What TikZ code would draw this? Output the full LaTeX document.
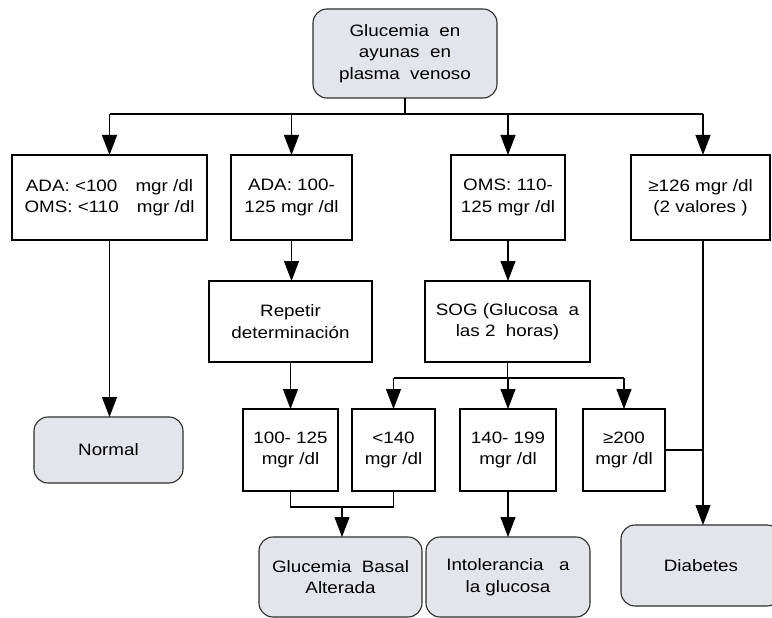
\documentclass[tikz,border=0pt]{standalone}
\usepackage{fontspec}
\setmainfont[FakeStretch=1.14]{Liberation Sans}
\usetikzlibrary{arrows.meta}
\definecolor{boxgray}{RGB}{228,229,234}
\definecolor{edgegray}{RGB}{45,45,45}
\begin{document}
\begin{tikzpicture}[x=1pt,y=-1pt,
  txt/.style={font=\fontsize{16.5pt}{21.5pt}\selectfont, align=center, inner sep=0pt, outer sep=0pt},
  sqbox/.style={txt, draw=black, line width=1.1pt, fill=white},
  rbox/.style={txt, draw=edgegray, line width=1.1pt, fill=boxgray, rounded corners=14pt},
  conn/.style={line width=1.1pt, draw=black},
  arr/.style={conn, -{Triangle[length=20pt,width=15pt]}}]
\useasboundingbox (0,0) rectangle (772,618);
\fill[white] (0,0) rectangle (772,618);

% top
\node[rbox, minimum width=184pt, minimum height=89pt] (top) at (405,53.5)
  {Glucemia\ \ en\\ayunas\ \ en\\plasma\ \ venoso};

% row 1
\node[sqbox, minimum width=195pt, minimum height=85pt] (A) at (109.5,197.5)
  {ADA: <100\hspace{1.1em}mgr /dl\\OMS: <110\hspace{1.1em}mgr /dl};
\node[sqbox, minimum width=121pt, minimum height=85pt] (B) at (291.5,197.5)
  {ADA: 100-\\125 mgr /dl};
\node[sqbox, minimum width=114pt, minimum height=85pt] (C) at (508,197.5)
  {OMS: 110-\\125 mgr /dl};
\node[sqbox, minimum width=139pt, minimum height=85pt] (D) at (700.5,197.5)
  {≥126 mgr /dl\\(2 valores )};

% row 2
\node[sqbox, minimum width=163pt, minimum height=81pt] (rep) at (290.5,321.5)
  {Repetir\\determinación};
\node[sqbox, minimum width=165pt, minimum height=81pt] (sog) at (507.5,321.5)
  {SOG (Glucosa\ \ a\\las 2\ \ horas)};

% row 3
\node[rbox, minimum width=149pt, minimum height=66pt] (norm) at (108.5,450) {Normal};
\node[sqbox, minimum width=95pt, minimum height=82pt] (r1) at (290.5,450) {100- 125\\mgr /dl};
\node[sqbox, minimum width=83pt, minimum height=82pt] (r2) at (393.5,450) {<140\\mgr /dl};
\node[sqbox, minimum width=96pt, minimum height=82pt] (r3) at (508,450) {140- 199\\mgr /dl};
\node[sqbox, minimum width=82pt, minimum height=82pt] (r4) at (624,450) {≥200\\mgr /dl};

% bottom
\node[rbox, minimum width=163pt, minimum height=80pt] (gba) at (340.5,577)
  {Glucemia\ \ Basal\\Alterada};
\node[rbox, minimum width=164pt, minimum height=80pt] (intol) at (508,577)
  {Intolerancia\ \ \ a\\la glucosa};
\node[rbox, minimum width=160pt, minimum height=81pt] (diab) at (701,565.5) {Diabetes};

% connectors from top
\coordinate (bus) at (405,114);
\coordinate (Dx) at (703,114);
\draw[conn] (top.south) -- (bus);
\draw[conn] (bus -| A.north) -- (Dx);
\draw[arr] (bus -| A.north) -- (A.north);
\draw[arr] (bus -| B.north) -- (B.north);
\draw[arr] (bus -| C.north) -- (C.north);
\draw[arr] (Dx) -- (Dx |- D.north);

% column connectors
\draw[arr] (A.south) -- (A.south |- norm.north);
\draw[arr] (B.south) -- (B.south |- rep.north);
\draw[arr] (C.south) -- (C.south |- sog.north);
\draw[arr] (rep.south) -- (r1.north);

% SOG fan-out
\coordinate (sbus) at (507.5,378);
\draw[conn] (sog.south) -- (sbus);
\draw[conn] (sbus -| r2.north) -- (sbus -| r4.north);
\draw[arr] (sbus -| r2.north) -- (r2.north);
\draw[arr] (sbus -| r3.north) -- (r3.north);
\draw[arr] (sbus -| r4.north) -- (r4.north);

% diabetes line
\coordinate (Dj) at (703,450);
\draw[arr] (Dx |- D.south) -- (Dx |- diab.north);
\draw[conn] (r4.east) -- (Dj);

% merge to GBA
\coordinate (mj) at (342,507);
\draw[conn] (r1.south) |- (mj) -| (r2.south);
\draw[arr] (mj) -- (mj |- gba.north);

\draw[arr] (r3.south) -- (r3.south |- intol.north);
\end{tikzpicture}
\end{document}
